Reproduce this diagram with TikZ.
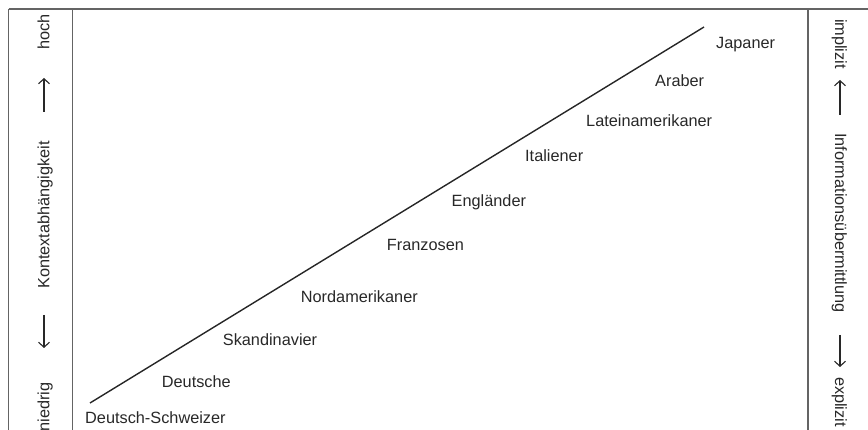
\documentclass[tikz,border=0pt]{standalone}
\usepackage{fontspec}
\setmainfont{Liberation Sans}
\definecolor{frameGray}{RGB}{100, 100, 100}
\definecolor{textGray}{RGB}{40, 40, 40}
\usetikzlibrary{arrows.meta}

\begin{document}
\begin{tikzpicture}[
      x=1pt, y=-1pt,
      every node/.style={font=\fontsize{16.3}{19}\selectfont, text=textGray, inner sep=0pt},
      frame/.style={draw=frameGray, line width=1.2pt},
      people/.style={anchor=base west},
      axisl/.style={rotate=90, anchor=base},
      axisr/.style={rotate=-90, anchor=base},
      axisarrow/.style={-{Straight Barb[length=5pt, width=11pt]}, line width=1.1pt, color=textGray},
      trend/.style={line width=1.4pt, color=black!85}
    ]
      \useasboundingbox (0,0) rectangle (868,430);

      % Frame: top rule and the three verticals
      \draw[frame] (8.5,9) -- (868,9);
      \draw[frame] (8.5,9) -- (8.5,430);
      \draw[frame] (72.5,9) -- (72.5,430);
      \draw[frame] (808,9) -- (808,430);

      % Left axis: Kontextabhaengigkeit
      \node[axisl] (hoch) at (49.3,32) {hoch};
      \node[axisl] (kontext) at (49.3,215) {Kontextabhängigkeit};
      \node[axisl] (niedrig) at (49.3,407) {niedrig};
      \coordinate (lupA) at (44,112);
      \coordinate (lupB) at (44,78);
      \coordinate (ldnA) at (44,315);
      \coordinate (ldnB) at (44,348);
      \draw[axisarrow] (lupA) -- (lupB);
      \draw[axisarrow] (ldnA) -- (ldnB);

      % Right axis: Informationsuebermittlung
      \node[axisr] (implizit) at (835,44) {implizit};
      \node[axisr] (info) at (835,223) {Informationsübermittlung};
      \node[axisr] (explizit) at (835,402) {explizit};
      \coordinate (rupA) at (840,115);
      \coordinate (rupB) at (840,80);
      \coordinate (rdnA) at (840,335);
      \coordinate (rdnB) at (840,367);
      \draw[axisarrow] (rupA) -- (rupB);
      \draw[axisarrow] (rdnA) -- (rdnB);

      % Trend line
      \coordinate (low) at (90,403);
      \coordinate (high) at (704,27);
      \draw[trend] (low) -- (high);

      % Cultures along the line
      \node[people] (japaner) at (716,49) {Japaner};
      \node[people] (araber) at (655,87) {Araber};
      \node[people] (latein) at (586,127) {Lateinamerikaner};
      \node[people] (italiener) at (525,162) {Italiener};
      \node[people] (englaender) at (451.5,207) {Engländer};
      \node[people] (franzosen) at (386.7,251) {Franzosen};
      \node[people] (nordam) at (300.7,303) {Nordamerikaner};
      \node[people] (skandinavier) at (222.7,346) {Skandinavier};
      \node[people] (deutsche) at (161.7,388) {Deutsche};
      \node[people] (schweizer) at (85,424) {Deutsch-Schweizer};
    \end{tikzpicture}
\end{document}
